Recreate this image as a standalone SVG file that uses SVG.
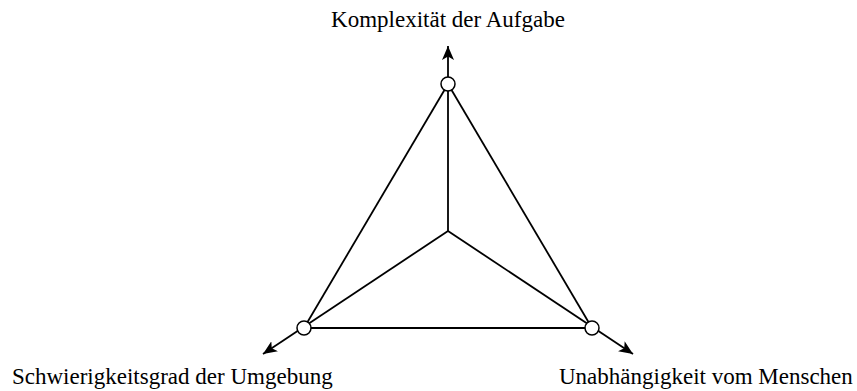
<svg xmlns="http://www.w3.org/2000/svg" width="857" height="391" viewBox="0 0 857 391">
<style>
.ln{stroke:#000;stroke-width:1.8;fill:none}
.nd{fill:#fff;stroke:#000;stroke-width:1.5}
.lb{font-family:"Liberation Serif",serif;font-size:23px;fill:#000}
</style>
<defs>
<marker id="ah" viewBox="0 0 14 12" refX="14" refY="6" markerWidth="14" markerHeight="12" markerUnits="userSpaceOnUse" orient="auto">
<path d="M0,0 L14,6 L0,12 L3.5,6 Z" fill="#000"/>
</marker>
</defs>
<rect width="857" height="391" fill="#fff"/>
<g id="connectors">
<line class="ln" x1="448" y1="231" x2="448" y2="46" marker-end="url(#ah)"/>
<line class="ln" x1="448" y1="231" x2="263" y2="354" marker-end="url(#ah)"/>
<line class="ln" x1="448" y1="231" x2="633" y2="354" marker-end="url(#ah)"/>
<line class="ln" x1="448" y1="84" x2="304" y2="328"/>
<line class="ln" x1="448" y1="84" x2="592" y2="328"/>
<line class="ln" x1="304" y1="328" x2="592" y2="328"/>
</g>
<g id="node-top"><circle class="nd" cx="448" cy="84" r="7"/></g>
<g id="node-left"><circle class="nd" cx="304" cy="328" r="7"/></g>
<g id="node-right"><circle class="nd" cx="592" cy="328" r="7"/></g>
<g id="label-top"><text class="lb" x="448" y="27" text-anchor="middle">Komplexität der Aufgabe</text></g>
<g id="label-left"><text class="lb" x="12" y="384">Schwierigkeitsgrad der Umgebung</text></g>
<g id="label-right"><text class="lb" x="559" y="384">Unabhängigkeit vom Menschen</text></g>
</svg>
